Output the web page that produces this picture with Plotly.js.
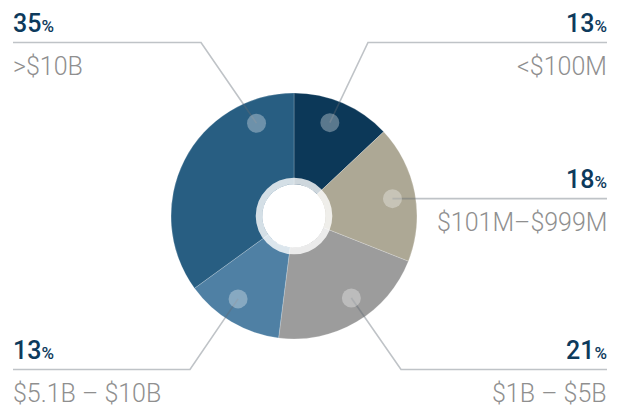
<!DOCTYPE html>
<html>
<head>
<meta charset="utf-8">
<script src="https://cdn.plot.ly/plotly-3.0.1.min.js"></script>
<style>html,body{margin:0;padding:0;background:#fff;}#chart{width:621px;height:408px;}</style>
</head>
<body>
<div id="chart"></div>
<script>
// ---- data ----
const categories = ['<$100M', '$101M\u2013$999M', '$1B \u2013 $5B', '$5.1B \u2013 $10B', '>$10B'];
const shares = [13, 18, 21, 13, 35];
const sliceColors = ['#0c3858', '#ada895', '#9c9c9c', '#4f80a4', '#285e82'];

// ---- geometry / style (pixel-like axis units) ----
const W = 621, H = 408;
const cx = 294, cy = 216, R = 123;
const holeR = 31.7, ringR = 38.3;
const dotR = 9.5, dotDist = 100;
// leader config per slice: angle of dot (deg clockwise from top), bend point, line end x, side
const leaders = [
  {ang: 21,  bend: [368, 42.5],  endX: 607, side: 'right'},
  {ang: 80,  bend: null,         endX: 607, side: 'right'},
  {ang: 145, bend: [401, 369.5], endX: 607, side: 'right'},
  {ang: 214, bend: [190, 369.5], endX: 13,  side: 'left'},
  {ang: 338, bend: [201, 42.5],  endX: 13,  side: 'left'}
];

const shapes = [];
const annotations = [];
categories.forEach((cat, i) => {
  const L = leaders[i];
  const a = L.ang * Math.PI / 180;
  const dx = cx + dotDist * Math.sin(a);
  const dy = cy - dotDist * Math.cos(a);
  const bend = L.bend || [dx, dy];
  const lineY = bend[1];
  const path = L.bend
    ? `M ${dx} ${dy} L ${bend[0]} ${bend[1]} L ${L.endX} ${lineY}`
    : `M ${dx} ${dy} L ${L.endX} ${lineY}`;
  shapes.push({type: 'path', xref: 'x', yref: 'y', path: path, layer: 'above',
    line: {color: 'rgba(95,105,115,0.4)', width: 1.6}});
  shapes.push({type: 'circle', xref: 'x', yref: 'y', layer: 'above',
    x0: dx - dotR, x1: dx + dotR, y0: dy - dotR, y1: dy + dotR,
    fillcolor: 'rgba(255,255,255,0.32)', line: {width: 0}});
  const xa = L.side === 'right' ? 'right' : 'left';
  const px = L.side === 'right' ? L.endX + 2 : L.endX - 2;
  annotations.push({xref: 'x', yref: 'y', x: px, y: lineY - 3, xanchor: xa, yanchor: 'bottom',
    showarrow: false,
    text: `${shares[i]}<span style="font-size:17px">%</span>`,
    font: {family: 'Roboto, sans-serif', size: 25, color: '#0d3a5c', weight: 500}});
  annotations.push({xref: 'x', yref: 'y', x: px, y: lineY + 7, xanchor: xa, yanchor: 'top',
    showarrow: false, text: cat,
    font: {family: 'Roboto, sans-serif', size: 25, color: '#8f8f8f', weight: 300}});
});

const pie = {
  type: 'pie', values: shares, labels: categories, sort: false, direction: 'clockwise',
  rotation: 0, hole: holeR / R, textinfo: 'none', hoverinfo: 'label+percent',
  marker: {colors: sliceColors, line: {width: 0.6, color: 'rgba(255,255,255,0.35)'}},
  domain: {x: [(cx - R) / W, (cx + R) / W], y: [1 - (cy + R) / H, 1 - (cy - R) / H]},
  showlegend: false
};
const ring = {
  type: 'pie', values: [1], labels: ['ring'], sort: false, hole: holeR / ringR,
  textinfo: 'none', hoverinfo: 'skip',
  marker: {colors: ['rgba(255,255,255,0.8)'], line: {width: 0}},
  domain: {x: [(cx - ringR) / W, (cx + ringR) / W], y: [1 - (cy + ringR) / H, 1 - (cy - ringR) / H]},
  showlegend: false
};

const layout = {
  width: W, height: H, margin: {l: 0, r: 0, t: 0, b: 0},
  paper_bgcolor: '#ffffff', plot_bgcolor: 'rgba(0,0,0,0)',
  xaxis: {range: [0, W], visible: false, fixedrange: true},
  yaxis: {range: [H, 0], visible: false, fixedrange: true},
  shapes: shapes, annotations: annotations, showlegend: false
};
Plotly.newPlot('chart', [pie, ring], layout, {displayModeBar: false, staticPlot: true});
</script>
</body>
</html>
